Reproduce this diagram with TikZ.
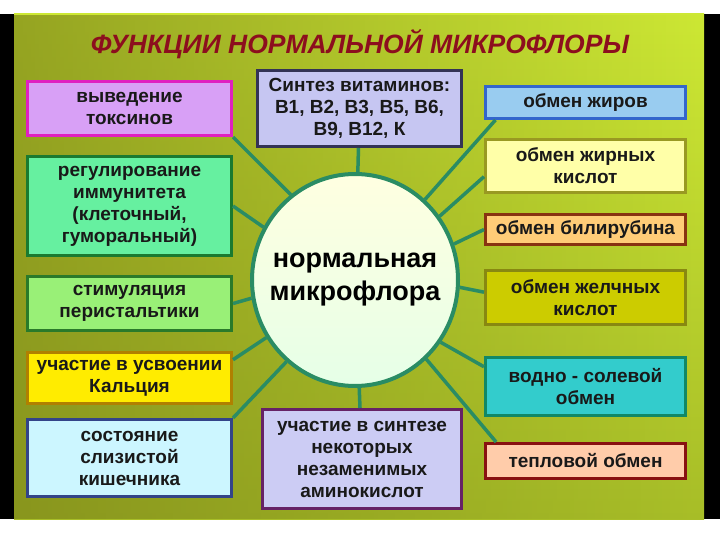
\documentclass[tikz,border=0pt]{standalone}
\usepackage{fontspec}
\setmainfont{Liberation Sans}
\usetikzlibrary{shapes.geometric,fadings}

\definecolor{titlered}{RGB}{140,14,30}
\definecolor{linkgreen}{RGB}{42,140,100}
\definecolor{bgtop}{RGB}{205,232,52}
\definecolor{bgbottom}{RGB}{168,190,40}
\definecolor{bgolive}{RGB}{120,128,24}

\tikzfading[name=fadeleft, left color=transparent!35, right color=transparent!100]

\tikzset{
  func/.style={draw, line width=3pt, align=center, inner sep=2pt,
    font=\bfseries\fontsize{19}{22}\selectfont, text=black!90},
  link/.style={linkgreen, line width=3.5pt},
}

\begin{document}
\begin{tikzpicture}[x=1pt,y=-1pt]
\useasboundingbox (0,0) rectangle (720,540);
\fill[white] (0,0) rectangle (720,540);
\fill[black] (0,14) rectangle (720,519);
\shade[top color=bgtop, bottom color=bgbottom] (14,14) rectangle (704,519);
\fill[bgolive, path fading=fadeleft] (14,14) rectangle (704,519);

\node[text=titlered, font=\bfseries\itshape\fontsize{26.5}{30}\selectfont] (title) at (360,44) {ФУНКЦИИ НОРМАЛЬНОЙ МИКРОФЛОРЫ};

\node[ellipse, draw=linkgreen, line width=4pt, inner sep=0pt, minimum width=206pt, minimum height=212pt,
  top color=yellow!12, bottom color=cyan!8!green!10] (flora) at (355,280) {};
\node[align=center, font=\bfseries\fontsize{27}{33}\selectfont] (floratext) at (flora.center) {нормальная\\микрофлора};

\node[func, fill={rgb,255:red,216;green,160;blue,246}, draw={rgb,255:red,224;green,32;blue,192},
  minimum width=204pt, minimum height=54pt] (toxin) at (129.5,108.5) {выведение\\токсинов};
\node[func, fill={rgb,255:red,102;green,240;blue,160}, draw={rgb,255:red,26;green,122;blue,48},
  minimum width=204pt, minimum height=99pt] (immun) at (129.5,206) {регулирование\\иммунитета\\(клеточный,\\гуморальный)};
\node[func, fill={rgb,255:red,153;green,240;blue,119}, draw={rgb,255:red,42;green,122;blue,42},
  minimum width=204pt, minimum height=54pt] (peristal) at (129.5,303.5) {стимуляция\\перистальтики};
\node[func, fill={rgb,255:red,255;green,236;blue,0}, draw={rgb,255:red,176;green,128;blue,0},
  minimum width=204pt, minimum height=51pt] (calcium) at (129.5,378) {участие в усвоении\\Кальция};
\node[func, fill={rgb,255:red,204;green,246;blue,255}, draw={rgb,255:red,51;green,68;blue,136},
  minimum width=204pt, minimum height=77pt] (mucosa) at (129.5,458) {состояние\\слизистой\\кишечника};

\node[func, fill={rgb,255:red,198;green,198;blue,242}, draw={rgb,255:red,51;green,51;blue,85},
  minimum width=204pt, minimum height=76pt] (vitamin) at (359.5,108.5) {Синтез витаминов:\\В1, В2, В3, В5, В6,\\В9, В12, К};
\node[func, fill={rgb,255:red,204;green,204;blue,244}, draw={rgb,255:red,102;green,34;blue,102},
  minimum width=199pt, minimum height=99pt] (amino) at (362,459) {участие в синтезе\\некоторых\\незаменимых\\аминокислот};

\node[func, fill={rgb,255:red,153;green,204;blue,240}, draw={rgb,255:red,51;green,102;blue,204},
  minimum width=200pt, minimum height=32pt] (fat) at (585.5,102.5) {обмен жиров};
\node[func, fill={rgb,255:red,255;green,255;blue,168}, draw={rgb,255:red,153;green,153;blue,34},
  minimum width=200pt, minimum height=53pt] (fattyacid) at (585.5,166) {обмен жирных\\кислот};
\node[func, fill={rgb,255:red,255;green,204;blue,119}, draw={rgb,255:red,136;green,51;blue,17},
  minimum width=200pt, minimum height=30pt] (bilirubin) at (585.5,229.5) {обмен билирубина};
\node[func, fill={rgb,255:red,204;green,204;blue,0}, draw={rgb,255:red,136;green,136;blue,17},
  minimum width=200pt, minimum height=54pt] (bileacid) at (585.5,297.5) {обмен желчных\\кислот};
\node[func, fill={rgb,255:red,51;green,204;blue,204}, draw={rgb,255:red,17;green,136;blue,102},
  minimum width=200pt, minimum height=58pt] (watersalt) at (585.5,386.5) {водно - солевой\\обмен};
\node[func, fill={rgb,255:red,255;green,204;blue,170}, draw={rgb,255:red,136;green,17;blue,17},
  minimum width=200pt, minimum height=35pt] (heat) at (585.5,461) {тепловой обмен};

\draw[link] (flora.127) -- (toxin.south east);
\draw[link] (flora.150) -- (immun.east);
\draw[link] (flora.190) -- (peristal.east);
\draw[link] (flora.213) -- (calcium.10);
\draw[link] (flora.230) -- (mucosa.north east);
\draw[link] (vitamin) -- (flora);
\draw[link] (flora) -- (amino);
\draw[link] (flora.49) -- (fat.191);
\draw[link] (flora.37) -- (fattyacid.186);
\draw[link] (flora.20) -- (bilirubin.west);
\draw[link] (flora.356) -- (bileacid.177);
\draw[link] (flora.324) -- (watersalt.169);
\draw[link] (flora.312) -- (heat.168);
\end{tikzpicture}
\end{document}
